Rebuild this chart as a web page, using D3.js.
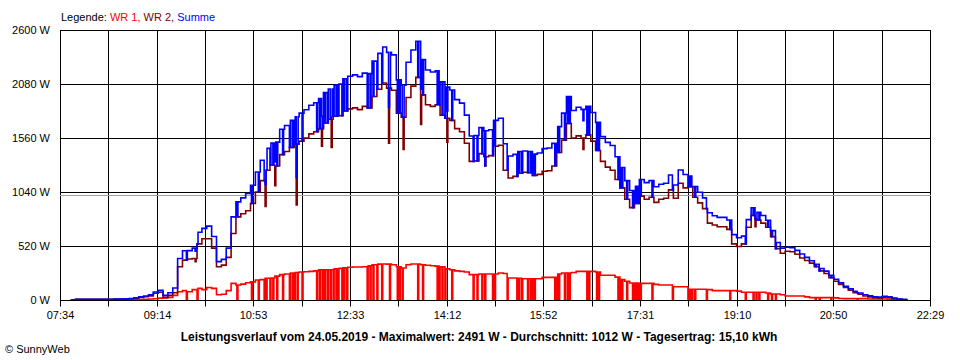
<!DOCTYPE html>
<html><head><meta charset="utf-8">
<script src="https://cdn.jsdelivr.net/npm/d3@7"></script>
<style>
body{margin:0;background:#fff;}
svg{display:block;font-family:"Liberation Sans",Arial,sans-serif;}
</style>
</head><body>
<svg id="c" width="960" height="360"></svg>
<script>
// ---------- data ----------
const times = [
 "07:45","07:50","07:55",
 "08:00","08:05","08:10","08:15","08:20","08:25","08:30","08:35","08:40","08:45","08:50","08:55",
 "09:00","09:05","09:10","09:15","09:20","09:25","09:30","09:35","09:40","09:45","09:50","09:55",
 "10:00","10:05","10:10","10:15","10:20","10:25","10:30","10:35","10:40","10:45","10:50","10:55",
 "11:00","11:05","11:10","11:15","11:20","11:25","11:30","11:35","11:40","11:45","11:50","11:55",
 "12:00","12:05","12:10","12:15","12:20","12:25","12:30","12:35","12:40","12:45","12:50","12:55",
 "13:00","13:05","13:10","13:15","13:20","13:25","13:30","13:35","13:40","13:45","13:50","13:55",
 "14:00","14:05","14:10","14:15","14:20","14:25","14:30","14:35","14:40","14:45","14:50","14:55",
 "15:00","15:05","15:10","15:15","15:20","15:25","15:30","15:35","15:40","15:45","15:50","15:55",
 "16:00","16:05","16:10","16:15","16:20","16:25","16:30","16:35","16:40","16:45","16:50","16:55",
 "17:00","17:05","17:10","17:15","17:20","17:25","17:30","17:35","17:40","17:45","17:50","17:55",
 "18:00","18:05","18:10","18:15","18:20","18:25","18:30","18:35","18:40","18:45","18:50","18:55",
 "19:00","19:05","19:10","19:15","19:20","19:25","19:30","19:35","19:40","19:45","19:50","19:55",
 "20:00","20:05","20:10","20:15","20:20","20:25","20:30","20:35","20:40","20:45","20:50","20:55",
 "21:00","21:05","21:10","21:15","21:20","21:25","21:30","21:35","21:40","21:45","21:50","21:55",
 "22:00","22:05"
];
// WR 2 (dark red), watts
const wr2 = [
 0,6,6,
 6,6,6,6,6,6,8,8,10,12,18,25,
 32,40,65,75,25,45,70,320,384,395,400,540,
 590,590,500,320,336,410,640,800,830,860,930,1040,
 1150,1250,1300,1290,1400,1430,1470,1500,1530,1560,1600,1620,
 1650,1705,1740,1770,1775,1820,1840,1850,1833,1865,1850,1960,
 2030,2090,2040,2020,1800,1760,1950,2060,2144,1975,1880,1865,
 1880,1780,1750,1730,1650,1620,1510,1335,1340,1410,1380,1390,
 1480,1490,1250,1175,1190,1220,1230,1225,1200,1210,1240,1245,
 1290,1420,1540,1700,1560,1580,1560,1590,1530,1440,1335,1280,
 1250,1160,1080,970,890,930,1000,970,990,940,970,980,
 1060,980,1124,1080,1090,990,935,880,740,722,706,706,
 680,540,515,540,700,815,770,740,700,610,495,450,
 470,465,440,405,380,355,320,280,255,215,180,150,
 120,95,70,55,38,30,22,18,26,24,13,6,
 3,0
];
// WR 1 (red), watts
const wr1 = [
 0,0,0,
 0,0,0,0,0,0,0,0,2,3,4,5,
 6,9,12,18,20,25,45,80,90,80,100,112,
 100,121,112,50,55,90,160,145,153,166,175,192,
 196,210,212,230,244,250,260,265,270,272,276,280,
 290,292,292,300,305,310,315,318,318,320,330,340,
 345,347,345,340,320,308,340,347,347,340,335,330,
 326,320,300,292,280,276,270,244,244,250,250,250,
 250,260,255,212,212,210,205,205,205,205,218,218,
 218,250,260,260,265,276,276,276,276,270,238,238,
 238,220,196,180,164,164,160,160,160,150,144,144,
 144,128,128,128,103,103,103,103,100,90,90,90,
 90,90,85,75,74,74,74,74,68,58,58,50,
 38,38,38,38,30,23,23,23,23,23,20,15,
 13,13,13,13,13,10,10,10,10,8,6,4,
 3,0
];
// short moments where WR 1 fell to 0 W
const wr1Dropouts = [
 "09:44","09:55","10:36","10:51","10:58","11:04","11:06","11:10","11:13","11:17","11:23","11:30",
 "11:33","11:35","11:38","11:43","11:58","12:01","12:04","12:06","12:09","12:12","12:15","12:18",
 "12:20","12:24","12:26","12:29","12:50","12:53","12:56","13:00","13:05","13:13","13:21","13:23",
 "13:26","13:42","13:47","14:02","14:04","14:07","14:10","14:17","14:39","14:43","14:48","14:51",
 "14:59","15:01","15:14","15:24","15:26","15:29","15:35","15:38","15:40","15:42","16:03","16:05",
 "16:07","16:13","16:16","16:18","16:36","16:38","16:46","16:48","17:08","17:10","17:12","17:17",
 "17:23","17:25","17:27","17:29","17:31","17:43","18:04","18:20","18:22","18:24","18:27","18:39",
 "19:03","19:19","19:27","19:30","19:33","19:42","19:46","19:50","20:31","20:35","20:47","21:14"
];
// short dips of WR 2 [time, watts]
const wr2Dips = [
 ["09:53",370],["11:05",900],["11:15",1100],["11:37",915],["12:03",1480],["12:13",1470],
 ["13:12",1510],["13:27",1450],["13:45",1690],["14:12",1520],["14:51",1290],["16:32",1450],["19:29",706]
];
const yTicks = [0,520,1040,1560,2080,2600];
const xTickLabels = ["07:34","09:14","10:53","12:33","14:12","15:52","17:31","19:10","20:50","22:29"];
const axisStart = "07:34", axisEnd = "22:29";
const average = 1012;
const legendLabel = "Legende: ";
const legendNames = ["WR 1, ","WR 2, ","Summe"];
const seriesColors = ["#ff0000","#800000","#0000ff"];
const titleText = "Leistungsverlauf vom 24.05.2019 - Maximalwert: 2491 W - Durchschnitt: 1012 W - Tagesertrag: 15,10 kWh";
const copyrightText = "\u00A9 SunnyWeb";

// ---------- chart ----------
function toMin(s){const p=s.split(":").map(Number);return p[0]*60+p[1];}
const svg = d3.select("#c");
const L=60, R=930, T=30, B=300;
const x = d3.scaleLinear().domain([toMin(axisStart), toMin(axisEnd)]).range([L,R]);
const y = d3.scaleLinear().domain([0,2600]).range([B,T]);

const t0 = toMin(axisStart), t1 = toMin(axisEnd);
const gridTimes = d3.range(19).map(i => t0 + i*(t1-t0)/18);

// grid
const g = svg.append("g");
g.selectAll("line.v").data(gridTimes).join("line")
 .attr("x1",d=>Math.round(x(d))+0.5).attr("x2",d=>Math.round(x(d))+0.5)
 .attr("y1",T).attr("y2",B).attr("stroke","#000").attr("stroke-width",1);
g.selectAll("line.h").data(yTicks).join("line")
 .attr("x1",L).attr("x2",Math.round(R)+1)
 .attr("y1",d=>Math.round(y(d))+0.5).attr("y2",d=>Math.round(y(d))+0.5)
 .attr("stroke","#000").attr("stroke-width",1);
// average
g.append("line").attr("x1",L).attr("x2",R+1)
 .attr("y1",Math.round(y(average))+0.5).attr("y2",Math.round(y(average))+0.5)
 .attr("stroke","#a0a0a0").attr("stroke-width",1);

// axes
const xAxis = d3.axisBottom(x).tickValues(gridTimes).tickSize(6).tickSizeOuter(0).tickPadding(5)
 .tickFormat((d,i)=> i%2===0 ? xTickLabels[i/2] : "");
const gx = svg.append("g").attr("transform",`translate(0,${B+0.5})`).call(xAxis);
gx.select(".domain").remove();
gx.selectAll(".tick line").attr("stroke","#000");
gx.selectAll(".tick").attr("transform",d=>`translate(${Math.round(x(d))+0.5},0)`);
gx.selectAll("text").attr("font-size",11).attr("font-family","Liberation Sans, Arial, sans-serif").attr("fill","#000");

const yAxis = d3.axisLeft(y).tickValues(yTicks).tickSize(0).tickPadding(10).tickFormat(d=>d+" W");
const gy = svg.append("g").attr("transform",`translate(${L},0)`).call(yAxis);
gy.select(".domain").remove();
gy.selectAll("text").attr("font-size",11).attr("font-family","Liberation Sans, Arial, sans-serif").attr("fill","#000").attr("dy","0.35em");

// build table
const grid = times.map(toMin);
const drops = wr1Dropouts.map(toMin);
const dips = wr2Dips.map(d=>({t:toMin(d[0]), v:d[1]}));
const ev = new Set(grid);
drops.forEach(t=>{ev.add(t); ev.add(t+1);});
dips.forEach(d=>{ev.add(d.t); ev.add(d.t+1);});
const evTimes = [...ev].sort((a,b)=>a-b).filter(t=>t<=grid[grid.length-1]);
const table = evTimes.map(t=>{
  const i = d3.bisectRight(grid,t)-1;
  const dip = dips.find(d=>t>=d.t && t<d.t+1);
  const drop = drops.some(d=>t>=d && t<d+1);
  const a = drop ? 0 : wr1[i];
  const b = dip ? dip.v : wr2[i];
  return {t, wr1:a, wr2:b, summe:a+b};
});

svg.append("clipPath").attr("id","pc").append("rect")
 .attr("x",L).attr("y",T-2).attr("width",R-L+1).attr("height",B-T+2);
const keys = ["wr1","wr2","summe"];
keys.forEach((k,ki)=>{
  const line = d3.line().curve(d3.curveStepAfter).x(d=>x(d.t)).y(d=>y(d[k]));
  svg.append("path").datum(table).attr("d",line)
   .attr("fill","none").attr("stroke",seriesColors[ki]).attr("stroke-width",1.6)
   .attr("stroke-linejoin","miter").attr("clip-path","url(#pc)");
});

// legend
const lg = svg.append("text").attr("x",61).attr("y",21).attr("font-size",11);
lg.append("tspan").attr("fill","#000").text(legendLabel);
legendNames.forEach((n,i)=> lg.append("tspan").attr("fill",seriesColors[i]).text(n));

// title
svg.append("text").attr("x",479).attr("y",341).attr("text-anchor","middle")
 .attr("font-size",12).attr("font-weight","bold").attr("fill","#000").text(titleText);
svg.append("text").attr("x",5).attr("y",353).attr("font-size",11).attr("fill","#000").text(copyrightText);
</script>
</body></html>
